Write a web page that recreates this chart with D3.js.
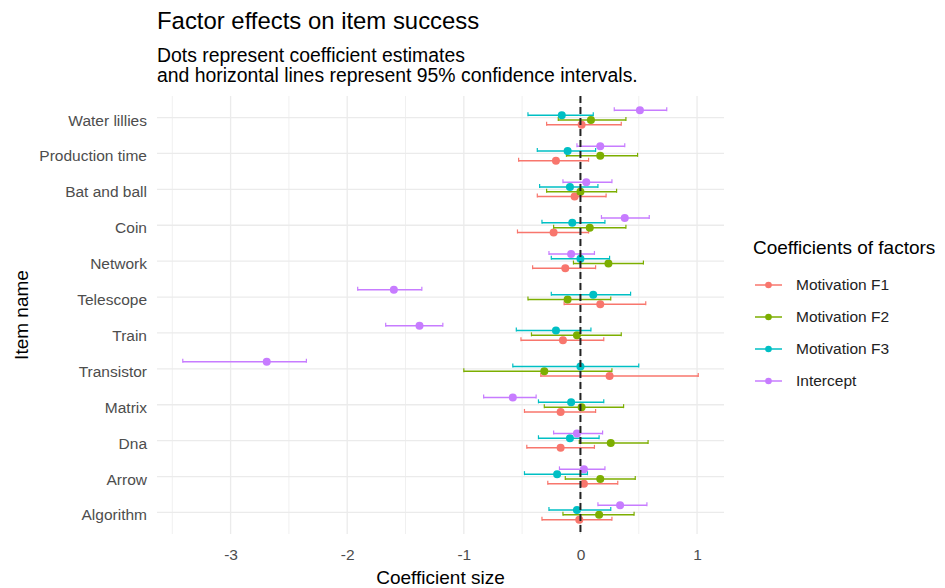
<!DOCTYPE html>
<html>
<head>
<meta charset="utf-8">
<script src="https://cdn.jsdelivr.net/npm/d3@7"></script>
<style>
  body { margin: 0; background: #fff; }
  svg text { font-family: "Liberation Sans", Arial, sans-serif; }
</style>
</head>
<body>
<svg id="chart" width="945" height="588"></svg>
<script>
// items top to bottom
const items = ["Water lillies", "Production time", "Bat and ball", "Coin", "Network", "Telescope",
  "Train", "Transistor", "Matrix", "Dna", "Arrow", "Algorithm"];

const seriesNames = ["Motivation F1", "Motivation F2", "Motivation F3", "Intercept"];
const seriesColors = ["#F8766D", "#7CAE00", "#00BFC4", "#C77CFF"];

const f1Est = [0.01, -0.21, -0.05, -0.23, -0.13, 0.17, -0.15, 0.25, -0.17, -0.17, 0.03, -0.01];
const f1Lo = [-0.29, -0.53, -0.37, -0.54, -0.41, -0.14, -0.51, -0.34, -0.48, -0.46, -0.28, -0.33];
const f1Hi = [0.35, 0.07, 0.22, 0.07, 0.13, 0.56, 0.20, 1.01, 0.13, 0.12, 0.32, 0.27];

const f2Est = [0.09, 0.17, 0.00, 0.08, 0.24, -0.11, -0.03, -0.31, 0.01, 0.26, 0.17, 0.16];
const f2Lo = [-0.19, -0.12, -0.29, -0.23, -0.06, -0.45, -0.42, -1.00, -0.31, -0.01, -0.13, -0.15];
const f2Hi = [0.39, 0.49, 0.31, 0.39, 0.54, 0.26, 0.35, 0.27, 0.37, 0.58, 0.47, 0.46];

const f3Est = [-0.16, -0.11, -0.09, -0.07, 0.00, 0.11, -0.21, 0.00, -0.08, -0.09, -0.20, -0.03];
const f3Lo = [-0.45, -0.37, -0.35, -0.33, -0.25, -0.25, -0.55, -0.58, -0.36, -0.36, -0.48, -0.27];
const f3Hi = [0.11, 0.13, 0.15, 0.21, 0.25, 0.43, 0.09, 0.50, 0.20, 0.16, 0.06, 0.26];

const icEst = [0.51, 0.17, 0.05, 0.38, -0.08, -1.60, -1.38, -2.69, -0.58, -0.03, 0.03, 0.34];
const icLo = [0.29, -0.03, -0.15, 0.18, -0.27, -1.91, -1.67, -3.41, -0.83, -0.23, -0.18, 0.15];
const icHi = [0.74, 0.38, 0.27, 0.59, 0.12, -1.36, -1.18, -2.35, -0.38, 0.19, 0.21, 0.57];

const xTicks = [-3, -2, -1, 0, 1];
const xMinor = [-3.5, -2.5, -1.5, -0.5, 0.5];

const estimates = [f1Est, f2Est, f3Est, icEst];
const lows = [f1Lo, f2Lo, f3Lo, icLo];
const highs = [f1Hi, f2Hi, f3Hi, icHi];

const rows = [];
seriesNames.forEach((s, si) => {
  items.forEach((item, i) => {
    rows.push({ series: s, item: item, est: estimates[si][i], lo: lows[si][i], hi: highs[si][i] });
  });
});

const panel = { left: 157, right: 724, top: 96, bottom: 534 };

const lo = d3.min(rows, (d) => d.lo);
const hi = d3.max(rows, (d) => d.hi);
const pad = (hi - lo) * 0.05;

const x = d3.scaleLinear().domain([lo - pad, hi + pad]).range([panel.left, panel.right]);
const y = d3.scalePoint().domain(items).range([panel.top, panel.bottom]).padding(0.6);
// dodge: intercept on top, F1 at bottom
const dodge = d3.scalePoint().domain(seriesNames.slice().reverse()).range([-7.2, 7.2]);
const color = d3.scaleOrdinal().domain(seriesNames).range(seriesColors);

const svg = d3.select("#chart");

// grid
const grid = svg.append("g");
grid.selectAll(".minor").data(xMinor).enter().append("line")
  .attr("x1", (d) => x(d)).attr("x2", (d) => x(d))
  .attr("y1", panel.top).attr("y2", panel.bottom)
  .attr("stroke", "#ececec").attr("stroke-width", 0.8);
grid.selectAll(".major").data(xTicks).enter().append("line")
  .attr("x1", (d) => x(d)).attr("x2", (d) => x(d))
  .attr("y1", panel.top).attr("y2", panel.bottom)
  .attr("stroke", "#ebebeb").attr("stroke-width", 1.3);
grid.selectAll(".hmajor").data(items).enter().append("line")
  .attr("x1", panel.left).attr("x2", panel.right)
  .attr("y1", (d) => y(d)).attr("y2", (d) => y(d))
  .attr("stroke", "#ebebeb").attr("stroke-width", 1.3);

// axes (labels only)
svg.append("g")
  .attr("transform", "translate(0," + panel.bottom + ")")
  .call(d3.axisBottom(x).tickValues(xTicks).tickFormat((d) => String(d)).tickSize(0).tickPadding(15))
  .call((g) => g.select(".domain").remove())
  .selectAll("text")
  .attr("fill", "#4d4d4d")
  .style("font-size", "15.5px");

svg.append("g")
  .attr("transform", "translate(" + panel.left + ",2.5)")
  .call(d3.axisLeft(y).tickSize(0).tickPadding(10))
  .call((g) => g.select(".domain").remove())
  .selectAll("text")
  .attr("fill", "#4d4d4d")
  .style("font-size", "15.5px");

// error bars + points
const marks = svg.append("g");
const bars = marks.selectAll(".bar").data(rows).enter().append("g")
  .attr("transform", (d) => "translate(0," + (y(d.item) + dodge(d.series)) + ")");

bars.append("line")
  .attr("x1", (d) => x(d.lo)).attr("x2", (d) => x(d.hi))
  .attr("stroke", (d) => color(d.series)).attr("stroke-width", 1.5);
bars.append("line")
  .attr("x1", (d) => x(d.lo)).attr("x2", (d) => x(d.lo))
  .attr("y1", -3).attr("y2", 1)
  .attr("stroke", (d) => color(d.series)).attr("stroke-width", 1.2);
bars.append("line")
  .attr("x1", (d) => x(d.hi)).attr("x2", (d) => x(d.hi))
  .attr("y1", -3).attr("y2", 1)
  .attr("stroke", (d) => color(d.series)).attr("stroke-width", 1.2);
bars.append("circle")
  .attr("cx", (d) => x(d.est)).attr("r", 4)
  .attr("fill", (d) => color(d.series));

// zero line
svg.append("line")
  .attr("x1", x(0)).attr("x2", x(0))
  .attr("y1", panel.top).attr("y2", panel.bottom)
  .attr("stroke", "#222").attr("stroke-width", 2)
  .attr("stroke-dasharray", "7,4");

// titles
svg.append("text").attr("x", 157).attr("y", 29)
  .style("font-size", "23.9px").attr("fill", "#000")
  .text("Factor effects on item success");
svg.append("text").attr("x", 157).attr("y", 62)
  .style("font-size", "19.4px").attr("fill", "#000")
  .text("Dots represent coefficient estimates");
svg.append("text").attr("x", 157).attr("y", 82)
  .style("font-size", "19.4px").attr("fill", "#000")
  .text("and horizontal lines represent 95% confidence intervals.");

svg.append("text")
  .attr("x", (panel.left + panel.right) / 2).attr("y", 584)
  .attr("text-anchor", "middle")
  .style("font-size", "19px")
  .text("Coefficient size");

svg.append("text")
  .attr("transform", "translate(28," + (panel.top + panel.bottom) / 2 + ") rotate(-90)")
  .attr("text-anchor", "middle")
  .style("font-size", "19px")
  .text("Item name");

// legend
const legend = svg.append("g").attr("transform", "translate(753,0)");
legend.append("text").attr("x", 0).attr("y", 254)
  .style("font-size", "19px")
  .text("Coefficients of factors");
const keys = legend.selectAll(".key").data(seriesNames).enter().append("g")
  .attr("transform", (d, i) => "translate(0," + (285 + i * 32) + ")");
keys.append("line").attr("x1", 2).attr("x2", 29)
  .attr("stroke", (d) => color(d)).attr("stroke-width", 1.5);
keys.append("circle").attr("cx", 15.5).attr("r", 3.3)
  .attr("fill", (d) => color(d));
keys.append("text").attr("x", 43).attr("dy", "0.35em")
  .style("font-size", "15.5px").attr("fill", "#222")
  .text((d) => d);
</script>
</body>
</html>
